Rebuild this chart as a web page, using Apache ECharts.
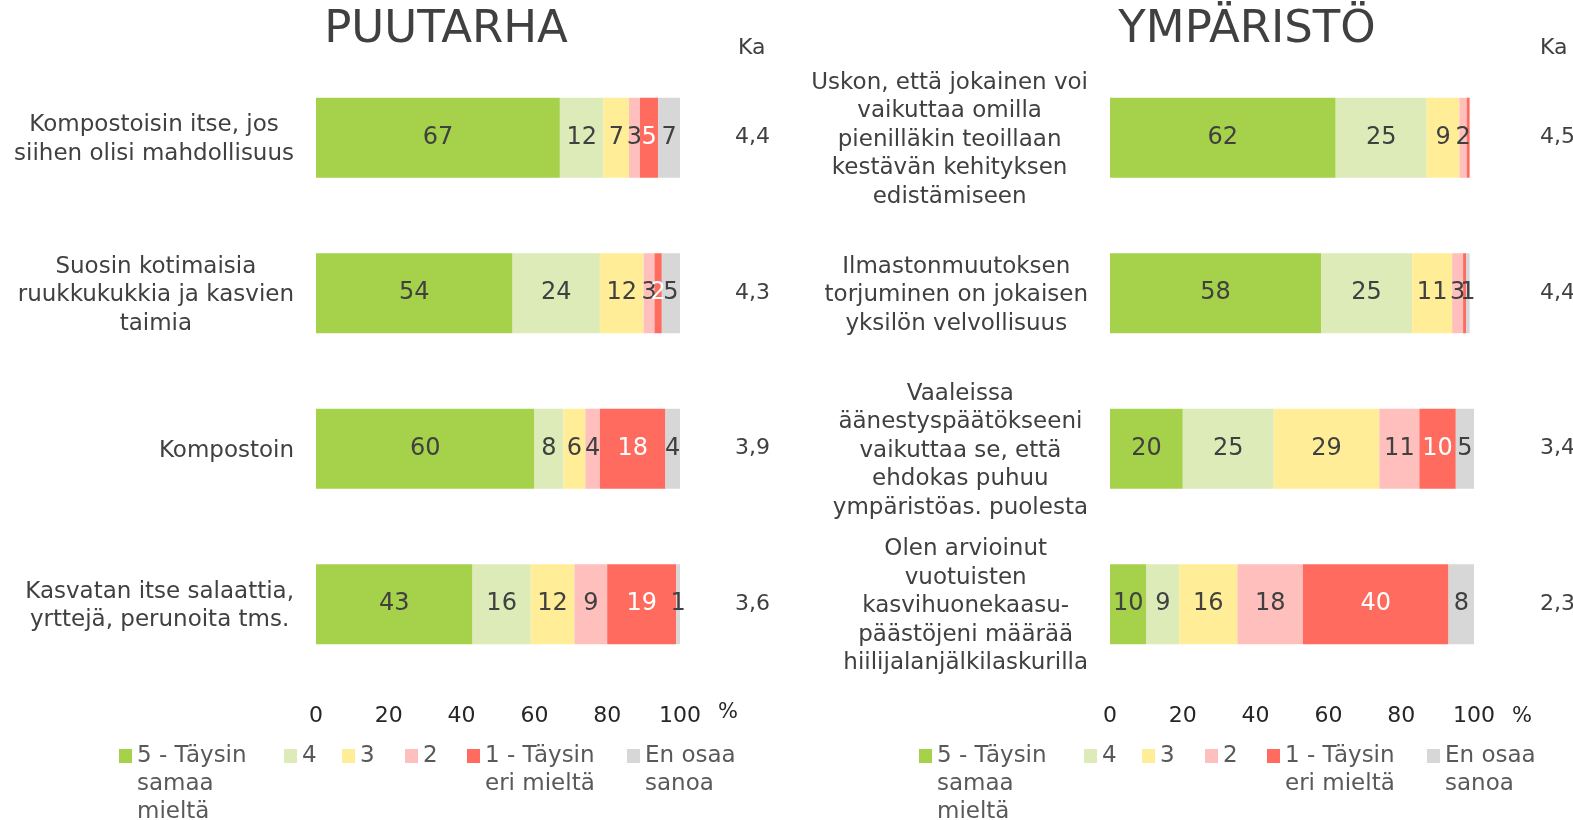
<!DOCTYPE html>
<html>
<head>
<meta charset="utf-8">
<script src="https://cdn.jsdelivr.net/npm/echarts@6/dist/echarts.min.js"></script>
<style>
  html, body { margin: 0; padding: 0; background: #fff; }
  #chart { width: 1573px; height: 820px; }
</style>
</head>
<body>
<div id="chart"></div>
<script>
// vastausvaihtoehdot ja värit
const seriesNames = ["5 - Täysin samaa mieltä", "4", "3", "2", "1 - Täysin eri mieltä", "En osaa sanoa"];
const legendText = ["\n\n5 - Täysin\nsamaa\nmieltä", "4", "3", "2", "\n1 - Täysin\neri mieltä", "\nEn osaa\nsanoa"];
const colors = ["#A6D14B", "#DCEBB8", "#FFEE97", "#FFBFBC", "#FF6B5E", "#D7D7D7"];

// PUUTARHA
const leftCategories = [
  "Kompostoisin itse, jos\nsiihen olisi mahdollisuus",
  "Suosin kotimaisia\nruukkukukkia ja kasvien\ntaimia",
  "Kompostoin",
  "Kasvatan itse salaattia,\nyrttejä, perunoita tms.",
];
const leftValues = [
  [67, 54, 60, 43],
  [12, 24, 8, 16],
  [7, 12, 6, 12],
  [3, 3, 4, 9],
  [5, 2, 18, 19],
  [7, 5, 4, 1],
];
const leftKa = ["4,4", "4,3", "3,9", "3,6"];

// YMPÄRISTÖ
const rightCategories = [
  "Uskon, että jokainen voi\nvaikuttaa omilla\npienilläkin teoillaan\nkestävän kehityksen\nedistämiseen",
  "Ilmastonmuutoksen\ntorjuminen on jokaisen\nyksilön velvollisuus",
  "Vaaleissa\näänestyspäätökseeni\nvaikuttaa se, että\nehdokas puhuu\nympäristöas. puolesta",
  "Olen arvioinut\nvuotuisten\nkasvihuonekaasu-\npäästöjeni määrää\nhiilijalanjälkilaskurilla",
];
const rightValues = [
  [62, 58, 20, 10],
  [25, 25, 25, 9],
  [9, 11, 29, 16],
  [2, 3, 11, 18],
  [0.8, 0.8, 10, 40],
  [0, 1, 5, 8],
];
const rightKa = ["4,5", "4,4", "3,4", "2,3"];

const legendTextWidths = [147, 40, 45, 44, 142, 110];

const FONT = "DejaVu Sans";
const TXT = "#404040";

const chart = echarts.init(document.getElementById("chart"));

function catAxis(gridIndex, cats) {
  return {
    type: "category",
    gridIndex: gridIndex,
    inverse: true,
    data: cats,
    axisLine: { show: false },
    axisTick: { show: false },
    axisLabel: {
      margin: 22,
      align: "right",
      padding: [4, 0, 0, 0],
      formatter: function (v) {
        return v.split("\n").map((l) => "{c|" + l + "}").join("\n");
      },
      rich: {
        c: { align: "center", fontSize: 23, lineHeight: 28.5, color: TXT, fontFamily: FONT },
      },
    },
  };
}

function kaAxis(gridIndex, ka, offset) {
  return {
    type: "category",
    gridIndex: gridIndex,
    inverse: true,
    position: "right",
    offset: offset,
    data: ka,
    axisLine: { show: false },
    axisTick: { show: false },
    axisLabel: { margin: 0, align: "left", padding: [4, 0, 0, 0], fontSize: 22, color: TXT, fontFamily: FONT },
  };
}

// "%" sits on the tick-label row: 2-line name, second line pushed down
function valAxis(gridIndex, nameLineHeight) {
  return {
    type: "value",
    gridIndex: gridIndex,
    min: 0,
    max: 100,
    interval: 20,
    name: "\n%",
    nameLocation: "end",
    nameGap: 38,
    nameTextStyle: { fontSize: 21, lineHeight: nameLineHeight, color: "#262626", fontFamily: FONT, align: "left", verticalAlign: "middle" },
    axisLine: { show: false },
    axisTick: { show: false },
    splitLine: { show: false },
    axisLabel: { margin: 23, fontSize: 22, color: "#262626", fontFamily: FONT },
  };
}

function makeSeries(gridIndex, values) {
  return seriesNames.map(function (name, j) {
    return {
      name: name,
      type: "bar",
      stack: "s" + gridIndex,
      xAxisIndex: gridIndex,
      yAxisIndex: gridIndex * 2,
      barWidth: 80,
      itemStyle: { color: colors[j] },
      label: {
        show: true,
        position: "inside",
        fontSize: 24,
        fontFamily: FONT,
        padding: [5, 0, 0, 0],
        color: j === 4 ? "#fff" : TXT,
        formatter: function (p) {
          return p.value >= 1 ? Math.round(p.value) : "";
        },
      },
      data: values[j],
    };
  });
}

function legend(left) {
  return {
    left: left,
    top: 686,
    padding: 0,
    orient: "horizontal",
    itemWidth: 13,
    itemHeight: 14,
    itemGap: 0,
    icon: "rect",
    selectedMode: false,
    textStyle: { fontSize: 23, lineHeight: 28, color: "#595959", fontFamily: FONT },
    formatter: function (name) {
      return legendText[seriesNames.indexOf(name)];
    },
    data: seriesNames.map(function (n, i) {
      return { name: n, textStyle: { width: legendTextWidths[i] } };
    }),
  };
}

const option = {
  animation: false,
  title: [
    { text: "PUUTARHA", left: 441, textAlign: "center", top: 3, textStyle: { fontSize: 45, fontWeight: "normal", color: TXT, fontFamily: FONT } },
    { text: "YMPÄRISTÖ", left: 1242, textAlign: "center", top: 3, textStyle: { fontSize: 45, fontWeight: "normal", color: TXT, fontFamily: FONT } },
    { text: "Ka", left: 733, top: 32, textStyle: { fontSize: 22, fontWeight: "normal", color: TXT, fontFamily: FONT } },
    { text: "Ka", left: 1535, top: 32, textStyle: { fontSize: 22, fontWeight: "normal", color: TXT, fontFamily: FONT } },
  ],
  grid: [
    { left: 316, top: 60, width: 364, height: 622, outerBoundsMode: "none" },
    { left: 1110, top: 60, width: 364, height: 622, outerBoundsMode: "none" },
  ],
  xAxis: [valAxis(0, 62), valAxis(1, 70)],
  yAxis: [
    catAxis(0, leftCategories),
    kaAxis(0, leftKa, 55),
    catAxis(1, rightCategories),
    kaAxis(1, rightKa, 66),
  ],
  legend: [legend(119), legend(919)],
  series: makeSeries(0, leftValues).concat(makeSeries(1, rightValues)),
};

chart.setOption(option);
</script>
</body>
</html>
